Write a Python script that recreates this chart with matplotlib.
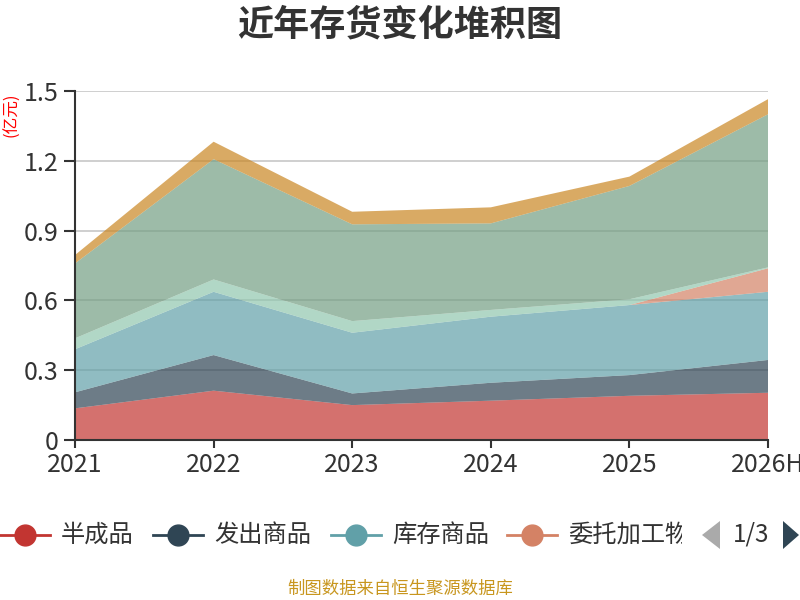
import matplotlib
matplotlib.use("Agg")
import matplotlib.pyplot as plt
from matplotlib.lines import Line2D
from matplotlib.patches import Polygon, Rectangle
from matplotlib.ticker import FuncFormatter

plt.rcParams['font.family'] = ['Noto Sans CJK SC', 'DejaVu Sans']

# data (亿元)
years = ["2021", "2022", "2023", "2024", "2025", "2026H"]
names = ["半成品", "发出商品", "库存商品", "委托加工物资", "原材料", "在产品", "周转材料"]
banchengpin = [0.136, 0.212, 0.150, 0.169, 0.190, 0.203]
fachu = [0.069, 0.153, 0.050, 0.077, 0.089, 0.141]
kucun = [0.185, 0.272, 0.261, 0.284, 0.301, 0.293]
weituo = [0.0, 0.0, 0.0, 0.0, 0.0, 0.101]
yuancailiao = [0.047, 0.053, 0.050, 0.029, 0.025, 0.004]
zaichanpin = [0.322, 0.517, 0.416, 0.372, 0.487, 0.658]
zhouzhuan = [0.036, 0.075, 0.054, 0.069, 0.040, 0.065]
series = [banchengpin, fachu, kucun, weituo, yuancailiao, zaichanpin, zhouzhuan]
colors = ['#c23531', '#2f4554', '#61a0a8', '#d48265', '#91c7ae', '#749f83', '#ca8622']

W, H = 800, 600
fig = plt.figure(figsize=(8, 6), dpi=100)
ax = fig.add_axes([75 / W, 1 - 440 / H, (768 - 75) / W, (440 - 91) / H])

x = list(range(len(years)))
ax.stackplot(x, *series, colors=colors, alpha=0.7, linewidth=0)

ax.set_xlim(0, len(years) - 1)
ax.set_ylim(0, 1.5)
ax.set_yticks([0, 0.3, 0.6, 0.9, 1.2, 1.5])
ax.yaxis.set_major_formatter(FuncFormatter(lambda v, p: "0" if v == 0 else f"{v:.1f}"))
ax.set_xticks(x)
ax.set_xticklabels(years)

ax.set_axisbelow(True)
ax.grid(axis='y', color='#cccccc', linewidth=1.3)
for s in ['top', 'right']:
    ax.spines[s].set_visible(False)
for s in ['left', 'bottom']:
    ax.spines[s].set_color('#333333')
    ax.spines[s].set_linewidth(1.5)
ax.tick_params(axis='y', length=8, width=1.5, color='#333333', labelsize=18, labelcolor='#333333', pad=4)
ax.tick_params(axis='x', length=6, width=1.5, color='#333333', labelsize=18, labelcolor='#333333', pad=3)

fig.text(400 / W, 1 - 25 / H, "近年存货变化堆积图", ha='center', va='center',
         fontsize=26, fontweight='bold', color='#333333')
fig.text(12 / W, 1 - 115 / H, "(亿元)", ha='center', va='center', rotation=90,
         fontsize=12, color='red')

# legend page 1 of 3, last label cut at the pager
clip = Rectangle((0, 0), 682 / W, 1, transform=fig.transFigure, visible=False)
fig.add_artist(clip)
ly = 1 - 535 / H
starts = [0, 153, 331, 507]
for i, sx in enumerate(starts):
    fig.add_artist(Line2D([sx / W, (sx + 50) / W], [ly, ly], color=colors[i], linewidth=2,
                          transform=fig.transFigure))
    fig.add_artist(Line2D([(sx + 25) / W], [ly], color=colors[i], marker='o', markersize=15,
                          transform=fig.transFigure))
    t = fig.text((sx + 61) / W, ly, names[i], ha='left', va='center', fontsize=17.5, color='#333333')
    t.set_clip_path(clip)

def px(pts):
    return [(a / W, 1 - b / H) for a, b in pts]

fig.add_artist(Polygon(px([(720, 521), (720, 549), (702, 535)]), closed=True,
                       facecolor='#aaaaaa', edgecolor='none', transform=fig.transFigure))
fig.add_artist(Polygon(px([(783, 521), (783, 549), (799, 535)]), closed=True,
                       facecolor='#2f4554', edgecolor='none', transform=fig.transFigure))
fig.text(751 / W, ly, "1/3", ha='center', va='center', fontsize=17.5, color='#333333')

fig.text(400 / W, 1 - 589 / H, "制图数据来自恒生聚源数据库", ha='center', va='center',
         fontsize=12.5, color='#c8961e')

fig.savefig("out.png", dpi=100)
